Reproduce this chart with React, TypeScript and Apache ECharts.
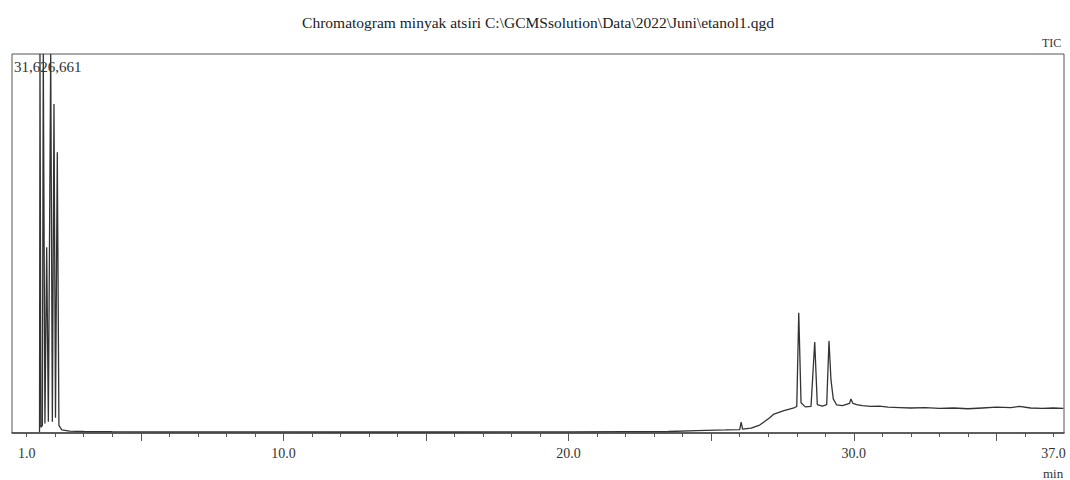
import React, { useEffect, useRef } from "react";
import * as echarts from "echarts";

const titleText = "Chromatogram minyak atsiri C:\\GCMSsolution\\Data\\2022\\Juni\\etanol1.qgd";
const maxIntensity = 31626661;
const xTickLabels = [1, 10, 20, 30, 37];
const minorTicks = Array.from({ length: 37 }, (_, i) => i + 1);
const majorTicks = [5, 10, 15, 20, 25, 30, 35];

const retentionTime = [
  1.45, 1.466, 1.5, 1.55, 1.582, 1.64, 1.701, 1.76, 1.842, 1.9, 1.957, 2.01, 2.073, 2.13, 2.23, 2.5, 3.0, 4.0,
  6.0, 8.0, 10.0, 12.0, 14.0, 16.0, 18.0, 20.0, 22.0, 23.5, 24.5, 25.5, 26.0, 26.05, 26.1, 26.4, 26.7, 26.85,
  27.05, 27.2, 27.55, 27.9, 28.0, 28.07, 28.15, 28.3, 28.5, 28.63, 28.72, 28.9, 29.05, 29.13, 29.2, 29.28,
  29.4, 29.6, 29.85, 29.9, 29.97, 30.1, 30.3, 30.6, 30.9, 31.2, 31.6, 32.0, 32.5, 33.0, 33.5, 34.0, 34.5,
  35.0, 35.5, 35.8, 36.2, 36.6, 37.0, 37.35,
];
const ticIntensity = [
  63000, 31626661, 474000, 633000, 31626661, 791000, 15497000, 949000, 31626661, 949000, 27452000, 1265000,
  23435000, 633000, 253000, 158000, 127000, 111000, 95000, 95000, 89000, 85000, 85000, 85000, 89000, 95000,
  111000, 127000, 190000, 253000, 285000, 917000, 316000, 411000, 664000, 917000, 1265000, 1581000, 1866000,
  2087000, 2214000, 10026000, 2530000, 2182000, 2214000, 7590000, 2372000, 2245000, 2372000, 7685000, 4428000,
  2846000, 2340000, 2277000, 2467000, 2846000, 2467000, 2372000, 2277000, 2214000, 2245000, 2151000, 2119000,
  2087000, 2119000, 2056000, 2087000, 2024000, 2087000, 2151000, 2119000, 2214000, 2087000, 2056000, 2087000,
  2056000,
];

const serif = "Liberation Serif";

export default function App() {
  const ref = useRef<HTMLDivElement>(null);
  useEffect(() => {
    if (!ref.current) return;
    const chart = echarts.init(ref.current, undefined, { renderer: "svg" });
    const data = retentionTime.map((t, i) => [t, ticIntensity[i]]);
    const xMin = 0.485;
    const xMax = 37.37;
    chart.setOption({
      animation: false,
      backgroundColor: "#fff",
      title: {
        text: titleText,
        left: 533,
        textAlign: "center",
        top: 9,
        textStyle: { fontFamily: serif, fontSize: 15.5, fontWeight: "normal", color: "#222" },
      },
      grid: {
        left: 12,
        right: 6,
        top: 54,
        bottom: 47,
        show: true,
        borderColor: "#555",
        borderWidth: 1,
        backgroundColor: "transparent",
      },
      xAxis: [
        {
          type: "value",
          min: xMin,
          max: xMax,
          splitLine: { show: false },
          axisLine: { show: true, lineStyle: { color: "#444", width: 1.5 } },
          axisTick: {
            show: true,
            customValues: minorTicks,
            length: 4,
            lineStyle: { color: "#555", width: 1 },
          },
          axisLabel: {
            show: true,
            customValues: xTickLabels,
            formatter: (v: number) => v.toFixed(1),
            fontFamily: serif,
            fontSize: 14,
            color: "#333",
            margin: 13,
          },
        },
        {
          type: "value",
          min: xMin,
          max: xMax,
          position: "bottom",
          splitLine: { show: false },
          axisLine: { show: false },
          axisTick: {
            show: true,
            customValues: majorTicks,
            length: 8,
            lineStyle: { color: "#555", width: 1 },
          },
          axisLabel: { show: false },
        },
      ],
      yAxis: {
        type: "value",
        min: 0,
        max: maxIntensity,
        show: false,
        splitLine: { show: false },
      },
      series: [
        {
          type: "line",
          xAxisIndex: 0,
          data,
          showSymbol: false,
          symbol: "none",
          lineStyle: { color: "#333", width: 1.3 },
          clip: false,
        },
      ],
      graphic: [
        {
          type: "text",
          left: 14,
          top: 59,
          style: { text: "31,626,661", font: `15px "${serif}"`, fill: "#333" },
        },
        {
          type: "text",
          left: 1042,
          top: 37,
          style: { text: "TIC", font: `12px "${serif}"`, fill: "#333" },
        },
        {
          type: "text",
          left: 1043,
          top: 467,
          style: { text: "min", font: `13px "${serif}"`, fill: "#333" },
        },
      ],
    });
    return () => chart.dispose();
  }, []);
  return (
    <div
      ref={ref}
      style={{ position: "fixed", left: 0, top: 0, width: 1070, height: 480, background: "#fff" }}
    />
  );
}
